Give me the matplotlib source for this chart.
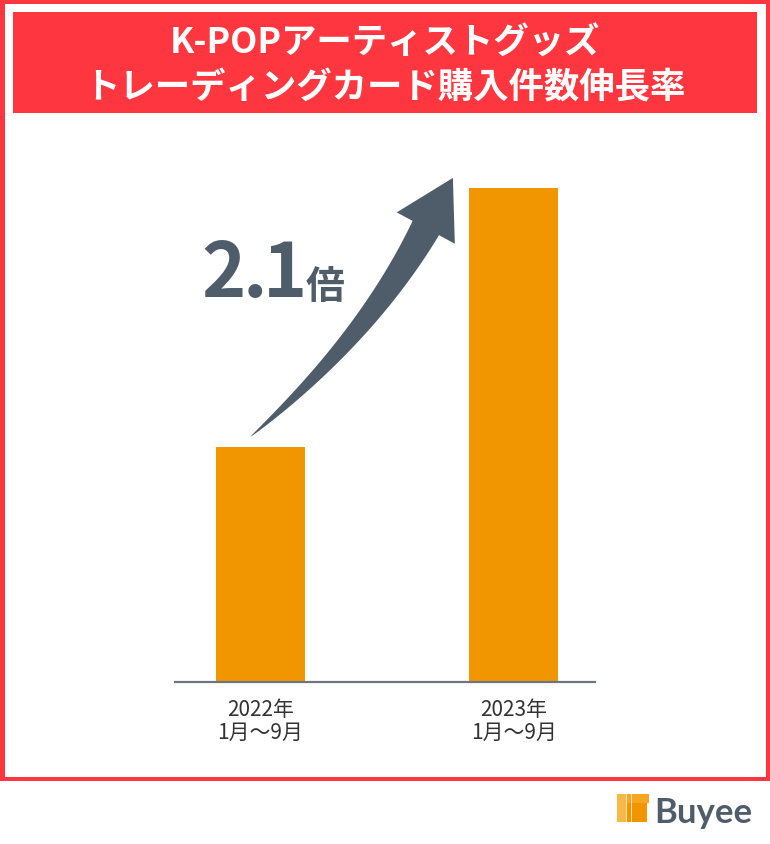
import numpy as np
import matplotlib
matplotlib.use("Agg")
import matplotlib.pyplot as plt
from matplotlib.patches import Rectangle, Polygon
from matplotlib.transforms import IdentityTransform

plt.rcParams['font.family'] = ['Noto Sans CJK JP', 'DejaVu Sans']

# ---- data ----
title_lines = ["K-POPアーティストグッズ", "トレーディングカード購入件数伸長率"]
categories = ["2022年\n1月〜9月", "2023年\n1月〜9月"]
values = [100, 210]
growth_chars = ["2", ".", "1"]
growth_unit = "倍"
brand = "Buyee"

RED = "#fe363f"
ORANGE = "#f29600"
SLATE = "#4f5d6b"
AXIS = "#6b7580"

W, H = 770, 845
fig = plt.figure(figsize=(W / 100, H / 100), dpi=100)
fig.patch.set_facecolor("white")


def fx(px):
    return px / W


def fy(py):
    return 1 - py / H


def frect(x0, y0, x1, y1, **kw):
    fig.add_artist(Rectangle((fx(x0), fy(y1)), fx(x1) - fx(x0), fy(y0) - fy(y1),
                             transform=fig.transFigure, lw=0, **kw))


# frame
frect(0, 0, 770, 4.5, color=RED)
frect(0, 777.5, 770, 782, color=RED)
frect(0, 0, 4.5, 782, color=RED)
frect(765.5, 0, 770, 782, color=RED)
# title box
frect(13, 13, 757, 114, color=RED)
fig.text(0.5, fy(43), title_lines[0], ha="center", va="center", color="white",
         fontsize=25.5, fontweight="bold")
fig.text(0.5, fy(88), title_lines[1], ha="center", va="center", color="white",
         fontsize=25.5, fontweight="bold")

# ---- axes ----
ax = fig.add_axes([fx(175), fy(683), fx(595) - fx(175), (683 - 150) / H])
x = np.arange(len(values))
ax.bar(x, values, width=0.351, color=ORANGE)
ax.set_xlim(-0.337, 1.3195)
ax.set_ylim(0, 226.8)
for s in ["top", "right", "left"]:
    ax.spines[s].set_visible(False)
ax.spines["bottom"].set_color(AXIS)
ax.spines["bottom"].set_linewidth(1.6)
ax.set_yticks([])
ax.set_xticks(x)
ax.set_xticklabels(categories, fontsize=15, color="#333333", linespacing=1.05)
ax.tick_params(axis="x", length=0, pad=11.5)
ax.patch.set_alpha(0)

# ---- curved arrow (decoration anchored to bars) ----
start = ax.transData.transform((-0.041, 104.2))
tip = ax.transData.transform((0.759, 214.5))
d = np.array([27.0, 50.0]); d /= np.linalg.norm(d)
head_len, head_w, shaft_w = 57.0, 66.0, 30.0
base = tip - head_len * d
s0 = np.array([40.0, 34.0]); s0 /= np.linalg.norm(s0)
A = np.column_stack([s0, d])
st = np.linalg.solve(A, base - start)
P1 = start + st[0] * s0
u = np.linspace(0, 1, 80)[:, None]
C = (1 - u) ** 2 * start + 2 * (1 - u) * u * P1 + u ** 2 * base
T = 2 * (1 - u) * (P1 - start) + 2 * u * (base - P1)
T /= np.linalg.norm(T, axis=1)[:, None]
N = np.column_stack([-T[:, 1], T[:, 0]])
w = shaft_w * (u[:, 0] ** 0.8)
left = C + N * (w / 2)[:, None]
right = C - N * (w / 2)[:, None]
nend = np.array([-d[1], d[0]])
head = np.array([base + nend * head_w / 2, tip, base - nend * head_w / 2])
poly = np.vstack([left, head, right[::-1]])
fig.add_artist(Polygon(poly, closed=True, transform=IdentityTransform(),
                       color=SLATE, lw=0))

# growth label (characters set tight as in the reference)
for ch, cx in zip(growth_chars, [224, 255, 285]):
    fig.text(fx(cx), fy(297), ch, ha="center", va="baseline", color=SLATE,
             fontsize=54, fontweight="bold")
fig.text(fx(325), fy(299), growth_unit, ha="center", va="baseline", color=SLATE,
         fontsize=28, fontweight="bold")

# ---- brand logo ----
frect(617, 795, 649, 804, color="#f5a623")
frect(619, 804, 647, 823, color=ORANGE)
frect(617, 795, 626, 823, color="#f7b84a")
frect(625.5, 795, 627, 823, color="#fde2b0")
frect(630.5, 795, 632, 823, color="#fde2b0")
fig.text(fx(654), fy(823), brand, ha="left", va="baseline", color=SLATE,
         fontsize=25, fontweight="bold", family=["Lato", "DejaVu Sans"])

fig.savefig("out.png", dpi=100)
